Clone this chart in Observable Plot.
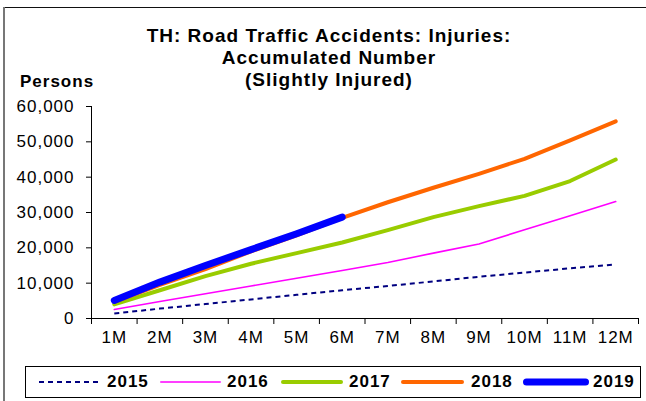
<!DOCTYPE html>
<html>
<head>
<meta charset="utf-8">
<script src="https://cdn.jsdelivr.net/npm/d3@7"></script>
<script src="https://cdn.jsdelivr.net/npm/@observablehq/plot@0.6"></script>
<style>
  html, body { margin: 0; padding: 0; background: #fff; }
  #wrap { position: relative; width: 646px; height: 401px; overflow: hidden; background: #fff;
          font-family: "Liberation Sans", Arial, sans-serif; color: #000; }
  #frameTop { position: absolute; left: 3px; top: 7px; width: 643px; height: 1px; background: #111; }
  #frameLeft { position: absolute; left: 3px; top: 7px; width: 2px; height: 394px; background: #777; }
  #title { position: absolute; left: 130px; width: 398px; top: 25px; text-align: center;
           font-weight: bold; font-size: 19px; letter-spacing: 1px; line-height: 22px; }
  #ylab { position: absolute; left: 20px; top: 72px; font-weight: bold; font-size: 17px; letter-spacing: 1px; }
  #chart { position: absolute; left: 0; top: 95px; }
  #legend { position: absolute; left: 25px; top: 366px; width: 614px; height: 30px; border: 1px solid #000; }
  .lt { position: absolute; top: 5px; font-weight: bold; font-size: 17px; letter-spacing: 1px; }
</style>
</head>
<body>
<div id="wrap">
  <div id="frameTop"></div>
  <div id="frameLeft"></div>
  <div id="title">TH: Road Traffic Accidents: Injuries:<br>Accumulated Number<br>(Slightly Injured)</div>
  <div id="ylab">Persons</div>
  <div id="chart"></div>
  <div id="legend"></div>
</div>
<script>
// ---- data ----
const months = ["1M","2M","3M","4M","5M","6M","7M","8M","9M","10M","11M","12M"];
const years = ["2015","2016","2017","2018","2019"];
const v2015 = [1400, 2800, 4100, 5400, 6700, 8000, 9200, 10500, 11800, 13000, 14200, 15300];
const v2016 = [2550, 4800, 7000, 9200, 11400, 13600, 15850, 18500, 21100, 25100, 29100, 33100];
const v2017 = [4000, 8000, 12000, 15500, 18500, 21500, 25000, 28700, 31800, 34700, 38900, 45000];
const v2018 = [4700, 9500, 14000, 19000, 23500, 28500, 32900, 37000, 40950, 45200, 50400, 55800];
const v2019 = [5100, 10300, 15000, 19500, 24000, 28700];
const yTicks = [0, 10000, 20000, 30000, 40000, 50000, 60000];

const seriesValues = [v2015, v2016, v2017, v2018, v2019];
const styles = {
  "2015": {stroke: "#000080", strokeWidth: 2, strokeDasharray: "5,4", strokeLinecap: "butt"},
  "2016": {stroke: "#FF00FF", strokeWidth: 1.6, strokeLinecap: "round"},
  "2017": {stroke: "#99CC00", strokeWidth: 4, strokeLinecap: "round"},
  "2018": {stroke: "#FF6600", strokeWidth: 4, strokeLinecap: "round"},
  "2019": {stroke: "#0000FF", strokeWidth: 7, strokeLinecap: "round"}
};

const rows = years.map((yr, i) => seriesValues[i].map((v, j) => ({year: yr, m: j + 1, v})));
const monthPos = months.map((_, j) => j + 1);
const bounds = d3.range(0, months.length + 1).map(k => k + 0.5);

const chart = Plot.plot({
  width: 646,
  height: 265,
  marginTop: 11,
  marginBottom: 42,
  marginLeft: 91,
  marginRight: 8,
  style: {fontFamily: "'Liberation Sans', Arial, sans-serif", fontSize: "17px", letterSpacing: "1px", color: "#000", background: "transparent"},
  x: {type: "linear", domain: [0.5, months.length + 0.5]},
  y: {domain: [0, 60000]},
  marks: [
    Plot.axisY({ticks: yTicks, tickSize: 5, tickPadding: 12, tickFormat: d3.format(","), label: null}),
    Plot.axisX({ticks: bounds, tickSize: 6, tickFormat: () => "", label: null}),
    Plot.axisX({ticks: monthPos, tickSize: 0, tickPadding: 12, tickFormat: d => months[d - 1], label: null}),
    Plot.ruleY([0], {stroke: "#000"}),
    Plot.ruleX([0.5], {stroke: "#000"}),
    ...rows.map((r, i) => Plot.line(r, {x: "m", y: "v", ...styles[years[i]]}))
  ]
});
document.getElementById("chart").appendChild(chart);

// ---- legend ----
const legend = document.getElementById("legend");
const swatchX = [13, 134, 255, 375, 497];
const swatchW = [62, 61, 62, 63, 66];
const textX = [81, 201, 323, 445, 567];
years.forEach((yr, i) => {
  const s = styles[yr];
  const svg = d3.create("svg").attr("width", swatchW[i] + 8).attr("height", 30)
    .style("position", "absolute").style("left", (swatchX[i] - 4) + "px").style("top", "0px");
  svg.append("line").attr("x1", 4 + (s.strokeLinecap === "round" ? s.strokeWidth / 2 : 0))
    .attr("x2", 4 + swatchW[i] - (s.strokeLinecap === "round" ? s.strokeWidth / 2 : 0))
    .attr("y1", 15).attr("y2", 15)
    .attr("stroke", s.stroke).attr("stroke-width", s.strokeWidth)
    .attr("stroke-dasharray", s.strokeDasharray || null)
    .attr("stroke-linecap", s.strokeLinecap);
  legend.appendChild(svg.node());
  const t = document.createElement("div");
  t.className = "lt";
  t.style.left = textX[i] + "px";
  t.textContent = yr;
  legend.appendChild(t);
});
</script>
</body>
</html>
